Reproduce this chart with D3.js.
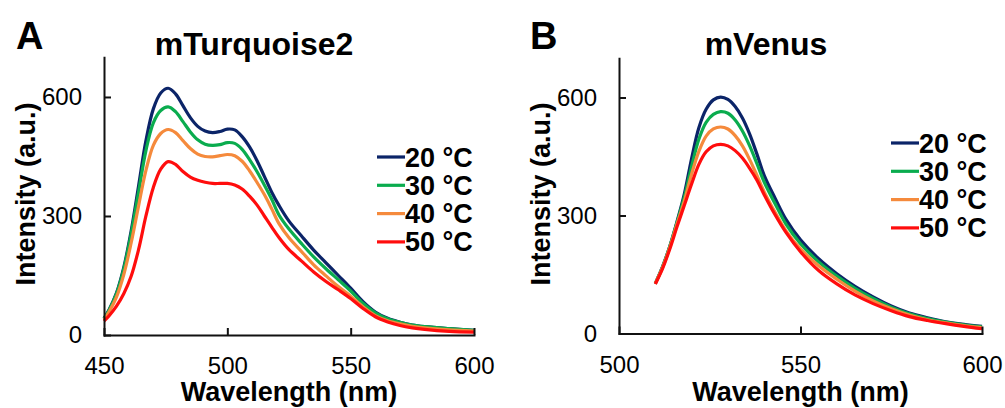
<!DOCTYPE html>
<html lang="en">
<head>
<meta charset="utf-8">
<script src="https://cdn.jsdelivr.net/npm/d3@7"></script>
<style>
  body { margin: 0; background: #fff; }
  svg text { font-family: "Liberation Sans", Arial, sans-serif; fill: #000; }
  .axis path, .axis line { stroke: #111; stroke-width: 2px; }
  .axis text { font-size: 24px; }
</style>
</head>
<body>
<script>
// temperatures / legend
var temps = ["20 °C", "30 °C", "40 °C", "50 °C"];
var colors = ["#0b2468", "#0aac4e", "#f58a3c", "#ff0d0d"];

// panel A - mTurquoise2
var wlA = [450, 452, 455, 458, 461, 464, 467, 470, 473, 476, 479, 482, 485, 488, 491, 494, 497, 500, 503, 506, 509, 512, 515, 518, 521, 525, 530, 535, 540, 545, 550, 555, 560, 565, 570, 575, 580, 590, 600];
var tq20 = [42, 63, 105, 170, 262, 375, 490, 570, 610, 622, 608, 578, 548, 526, 514, 510, 513, 519, 517, 500, 474, 440, 400, 360, 326, 287, 250, 214, 182, 150, 118, 84, 58, 42, 32, 25, 21, 16, 12];
var tq30 = [41, 62, 103, 166, 255, 360, 465, 535, 566, 575, 563, 538, 512, 492, 481, 478, 480, 485, 483, 468, 442, 412, 378, 342, 302, 267, 231, 197, 167, 139, 111, 80, 56, 41, 32, 25, 21, 16, 12];
var tq40 = [38, 58, 95, 152, 232, 325, 415, 478, 508, 518, 510, 490, 470, 456, 450, 449, 452, 455, 452, 438, 414, 385, 354, 318, 280, 245, 211, 177, 149, 122, 98, 71, 49, 36, 28, 22, 18, 13, 10];
var tq50 = [35, 48, 72, 104, 148, 215, 300, 372, 418, 437, 430, 412, 398, 390, 385, 382, 382, 382, 378, 368, 350, 328, 300, 272, 245, 215, 187, 159, 135, 114, 92, 67, 46, 33, 24, 18, 14, 9, 7];

// panel B - mVenus
var wlB = [510, 512, 514, 516, 518, 520, 522, 524, 526, 528, 530, 532, 534, 536, 538, 540, 543, 546, 550, 555, 560, 565, 570, 575, 580, 585, 590, 595, 600];
var vn20 = [127, 170, 222, 285, 355, 445, 523, 570, 594, 601, 595, 577, 548, 507, 456, 402, 344, 290, 238, 190, 152, 120, 93, 70, 52, 40, 30, 23, 18];
var vn30 = [127, 169, 221, 283, 347, 425, 494, 537, 557, 564, 560, 543, 515, 477, 432, 385, 330, 278, 228, 182, 146, 115, 89, 67, 50, 38, 29, 22, 17];
var vn40 = [127, 168, 219, 279, 337, 405, 463, 502, 520, 525, 520, 503, 477, 442, 402, 360, 308, 261, 215, 172, 138, 108, 83, 63, 47, 35, 27, 20, 15];
var vn50 = [126, 165, 215, 272, 326, 380, 430, 462, 477, 481, 477, 465, 446, 420, 390, 353, 302, 257, 208, 160, 126, 98, 76, 58, 43, 33, 25, 18, 12];

var yTicks = [0, 300, 600];
var xTicksA = [450, 500, 550, 600];
var xTicksB = [500, 550, 600];

var w = 1005, h = 408;
var svg = d3.select("body").append("svg").attr("width", w).attr("height", h);

function panel(opt) {
  var x = d3.scaleLinear().domain(opt.xDomain).range([opt.left, opt.right]);
  var y = d3.scaleLinear().domain([0, 700]).range([opt.bottom, opt.bottom - 700 * opt.k]);

  var g = svg.append("g");

  var line = d3.line()
    .x(function(d) { return x(d[0]); })
    .y(function(d) { return y(d[1]); })
    .curve(d3.curveCatmullRom.alpha(0.5));

  // draw 20 first so 50 lies on top
  opt.series.forEach(function(s, i) {
    g.append("path")
      .datum(opt.wl.map(function(v, j) { return [v, s[j]]; }))
      .attr("fill", "none")
      .attr("stroke", colors[i])
      .attr("stroke-width", 3.2)
      .attr("stroke-linejoin", "round")
      .attr("d", line);
  });

  g.append("g")
    .attr("class", "axis")
    .attr("transform", "translate(0," + opt.bottom + ")")
    .call(d3.axisBottom(x).tickValues(opt.xTicks).tickSize(-7).tickSizeOuter(0).tickPadding(22))
    .call(function(a) { a.selectAll("text").attr("dy", "0.71em"); });

  g.append("g")
    .attr("class", "axis")
    .attr("transform", "translate(" + opt.left + ",0)")
    .call(d3.axisLeft(y).tickValues(yTicks).tickSize(-7).tickSizeOuter(0).tickPadding(22));

  g.selectAll(".axis .domain").attr("stroke-linecap", "square");

  // panel letter and title
  g.append("text")
    .attr("x", opt.letterX).attr("y", 49)
    .style("font-size", "38px").style("font-weight", "bold")
    .text(opt.letter);
  g.append("text")
    .attr("x", opt.titleX).attr("y", 55)
    .attr("text-anchor", "middle")
    .style("font-size", "32px").style("font-weight", "bold")
    .text(opt.title);

  // axis titles
  g.append("text")
    .attr("x", (opt.left + opt.right) / 2).attr("y", 401)
    .attr("text-anchor", "middle")
    .style("font-size", "27px").style("font-weight", "bold")
    .text("Wavelength (nm)");
  g.append("text")
    .attr("transform", "translate(" + opt.yTitleX + ",194) rotate(-90)")
    .attr("text-anchor", "middle")
    .style("font-size", "27px").style("font-weight", "bold")
    .text("Intensity (a.u.)");

  // legend
  var leg = g.append("g");
  temps.forEach(function(t, i) {
    var ly = opt.legY + i * 28.3;
    leg.append("line")
      .attr("x1", opt.legX).attr("x2", opt.legX + 28)
      .attr("y1", ly).attr("y2", ly)
      .attr("stroke", colors[i]).attr("stroke-width", 3.2);
    leg.append("text")
      .attr("x", opt.legX + 28).attr("y", ly + 9.5)
      .style("font-size", "27px").style("font-weight", "bold")
      .text(t);
  });
}

panel({
  xDomain: [450, 600], left: 104, right: 474, bottom: 335, k: 0.3967,
  wl: wlA, series: [tq20, tq30, tq40, tq50], xTicks: xTicksA,
  letter: "A", letterX: 16, title: "mTurquoise2", titleX: 254,
  yTitleX: 35, legX: 377, legY: 157
});

panel({
  xDomain: [500, 600], left: 619, right: 982, bottom: 333.5, k: 0.3933,
  wl: wlB, series: [vn20, vn30, vn40, vn50], xTicks: xTicksB,
  letter: "B", letterX: 530, title: "mVenus", titleX: 766,
  yTitleX: 550, legX: 891, legY: 143
});
</script>
</body>
</html>
